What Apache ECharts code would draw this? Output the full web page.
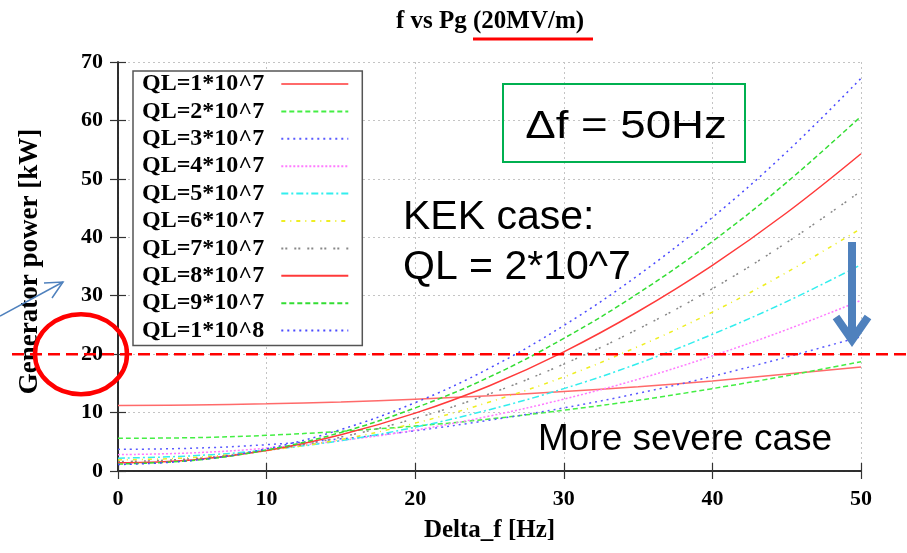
<!DOCTYPE html>
<html><head><meta charset="utf-8">
<script src="https://cdn.jsdelivr.net/npm/echarts@6/dist/echarts.min.js"></script>
<style>html,body{margin:0;padding:0;background:#fff}#c{width:907px;height:553px}</style>
</head><body><div id="c"></div>
<script>
// ---- data ----
const deltaF = [0, 5, 10, 15, 20, 25, 30, 35, 40, 45, 50];
const seriesNames = ['QL=1*10^7','QL=2*10^7','QL=3*10^7','QL=4*10^7','QL=5*10^7','QL=6*10^7','QL=7*10^7','QL=8*10^7','QL=9*10^7','QL=1*10^8'];
const pgQL1e7 = [11.2, 11.3, 11.5, 11.8, 12.3, 12.9, 13.6, 14.4, 15.4, 16.6, 17.8];
const pgQL2e7 = [5.6, 5.7, 6.1, 6.8, 7.7, 8.9, 10.4, 12.1, 14.1, 16.3, 18.7];
const pgQL3e7 = [3.7, 3.9, 4.5, 5.5, 6.9, 8.7, 10.8, 13.3, 16.2, 19.5, 23.0];
const pgQL4e7 = [2.8, 3.1, 3.9, 5.2, 7.0, 9.4, 12.3, 15.7, 19.7, 24.2, 29.2];
const pgQL5e7 = [2.2, 2.6, 3.6, 5.2, 7.5, 10.5, 14.1, 18.4, 23.4, 29.0, 35.3];
const pgQL6e7 = [1.9, 2.3, 3.5, 5.4, 8.2, 11.8, 16.1, 21.3, 27.2, 34.0, 41.5];
const pgQL7e7 = [1.6, 2.1, 3.5, 5.8, 9.0, 13.2, 18.3, 24.3, 31.2, 39.1, 47.9];
const pgQL8e7 = [1.4, 1.9, 3.5, 6.2, 9.9, 14.6, 20.4, 27.3, 35.2, 44.2, 54.3];
const pgQL9e7 = [1.2, 1.8, 3.6, 6.6, 10.8, 16.1, 22.7, 30.4, 39.3, 49.4, 60.7];
const pgQL1e8 = [1.1, 1.8, 3.8, 7.1, 11.7, 17.6, 24.9, 33.5, 43.4, 54.6, 67.2];
const allSeries = [pgQL1e7, pgQL2e7, pgQL3e7, pgQL4e7, pgQL5e7, pgQL6e7, pgQL7e7, pgQL8e7, pgQL9e7, pgQL1e8];
const thresholdKW = 20;

// ---- styles ----
const colors = ['#ff6a6a','#44ee44','#5a5aff','#ff7aff','#33eeee','#eeee22','#888888','#ff3a3a','#33dd33','#4a4aff'];
const dashes = ['solid',[5,3],[2,4],[2,2],[7,3,2,3],[4,5,1,5],[2,2,2,7],'solid',[5,3],[2,4]];
const serifB = 'Liberation Serif';

const chart = echarts.init(document.getElementById('c'));
const series = allSeries.map((vals, i) => ({
  name: seriesNames[i], type: 'line', smooth: 0.4, symbol: 'none', showSymbol: false,
  data: deltaF.map((x, j) => [x, vals[j]]),
  lineStyle: { color: colors[i], width: 1.5, type: dashes[i] },
  itemStyle: { color: colors[i] },
  z: 3
}));

const tickStyle = { show: true, inside: true, length: 8, lineStyle: { color: '#333', width: 1.2 } };
const axisLine = { show: true, lineStyle: { color: '#222', width: 1.5 } };
const labelFont = { fontFamily: serifB, fontWeight: 'bold', fontSize: 22, color: '#000' };

chart.setOption({
  animation: false,
  backgroundColor: '#fff',
  grid: { left: 118, right: 46, top: 62, bottom: 82, containLabel: false },
  xAxis: [
    { type: 'value', min: 0, max: 50, interval: 10, position: 'bottom',
      name: 'Delta_f [Hz]', nameLocation: 'middle', nameGap: 47,
      nameTextStyle: { fontFamily: serifB, fontWeight: 'bold', fontSize: 25, color: '#000' },
      axisLine, axisTick: tickStyle,
      axisLabel: Object.assign({ margin: 17 }, labelFont),
      splitLine: { show: true, lineStyle: { color: '#c4c4c4', type: [2,3], width: 1 } } },
    { type: 'value', min: 0, max: 50, interval: 10, position: 'top',
      axisLine, axisTick: tickStyle, axisLabel: { show: false }, splitLine: { show: false } }
  ],
  yAxis: [
    { type: 'value', min: 0, max: 70, interval: 10, position: 'left',
      name: 'Generator power [kW]', nameLocation: 'middle', nameGap: 74, nameRotate: 90,
      nameTextStyle: { fontFamily: serifB, fontWeight: 'bold', fontSize: 27, color: '#000', padding: [0, 0, 0, 10] },
      axisLine, axisTick: tickStyle,
      axisLabel: Object.assign({ margin: 15 }, labelFont),
      splitLine: { show: true, lineStyle: { color: '#c4c4c4', type: [2,3], width: 1 } } },
    { type: 'value', min: 0, max: 70, interval: 10, position: 'right',
      axisLine, axisTick: tickStyle, axisLabel: { show: false }, splitLine: { show: false } }
  ],
  legend: {
    orient: 'vertical', left: 133, top: 71, align: 'right',
    itemWidth: 67, itemHeight: 14, itemGap: 3.4,
    padding: [1, 13, 3, 9],
    backgroundColor: '#fff', borderColor: '#555', borderWidth: 1.5,
    itemStyle: { opacity: 0 },
    textStyle: { fontFamily: serifB, fontWeight: 'bold', fontSize: 24, lineHeight: 24, color: '#000', padding: [0, 12, 0, 0] },
    data: seriesNames
  },
  series
});

const y20 = chart.convertToPixel({ yAxisIndex: 0 }, thresholdKW);
const blue = '#4f81bd';
chart.setOption({
  graphic: [
    { type: 'text', x: 490, y: 22, z: 50,
      style: { text: 'f vs Pg (20MV/m)', fontFamily: serifB, fontWeight: 'bold', fontSize: 25, fill: '#000', align: 'center', verticalAlign: 'middle' } },
    { type: 'line', z: 50, shape: { x1: 473, y1: 39, x2: 593, y2: 39 }, style: { stroke: '#ff0000', lineWidth: 3 } },
    { type: 'rect', z: 50, shape: { x: 503, y: 84, width: 242, height: 78 }, style: { fill: 'transparent', stroke: '#00b050', lineWidth: 2 } },
    { type: 'text', x: 626, y: 127, z: 50, scaleX: 1.17, originX: 0, originY: 0,
      style: { text: 'Δf = 50Hz', fontFamily: 'Liberation Sans', fontSize: 39, fill: '#000', align: 'center', verticalAlign: 'middle' } },
    { type: 'text', x: 403, y: 218, z: 50,
      style: { text: 'KEK case:', fontFamily: 'Liberation Sans', fontSize: 41, fill: '#000', align: 'left', verticalAlign: 'middle' } },
    { type: 'text', x: 403, y: 268, z: 50,
      style: { text: 'QL = 2*10^7', fontFamily: 'Liberation Sans', fontSize: 41, fill: '#000', align: 'left', verticalAlign: 'middle' } },
    { type: 'text', x: 538, y: 440, z: 50,
      style: { text: 'More severe case', fontFamily: 'Liberation Sans', fontSize: 37, fill: '#000', align: 'left', verticalAlign: 'middle' } },
    { type: 'line', z: 60, shape: { x1: 12, y1: y20, x2: 907, y2: y20 }, style: { stroke: '#ff0000', lineWidth: 2.5, lineDash: [12, 6] } },
    { type: 'ellipse', z: 60, shape: { cx: 81, cy: y20, rx: 46, ry: 40 }, style: { fill: 'transparent', stroke: '#ff0000', lineWidth: 4.5 } },
    { type: 'polyline', z: 60, shape: { points: [[0, 316], [63, 282]] }, style: { stroke: blue, lineWidth: 1.5, fill: null } },
    { type: 'polyline', z: 60, shape: { points: [[44, 283], [63, 282], [52, 298]] }, style: { stroke: blue, lineWidth: 1.5, fill: null } },
    { type: 'line', z: 60, shape: { x1: 852, y1: 242, x2: 852, y2: 336 }, style: { stroke: blue, lineWidth: 8 } },
    { type: 'polyline', z: 60, shape: { points: [[836, 317], [852, 340], [868, 317]] }, style: { stroke: blue, lineWidth: 8, fill: null, lineJoin: 'miter' } }
  ]
});
</script>
</body></html>
